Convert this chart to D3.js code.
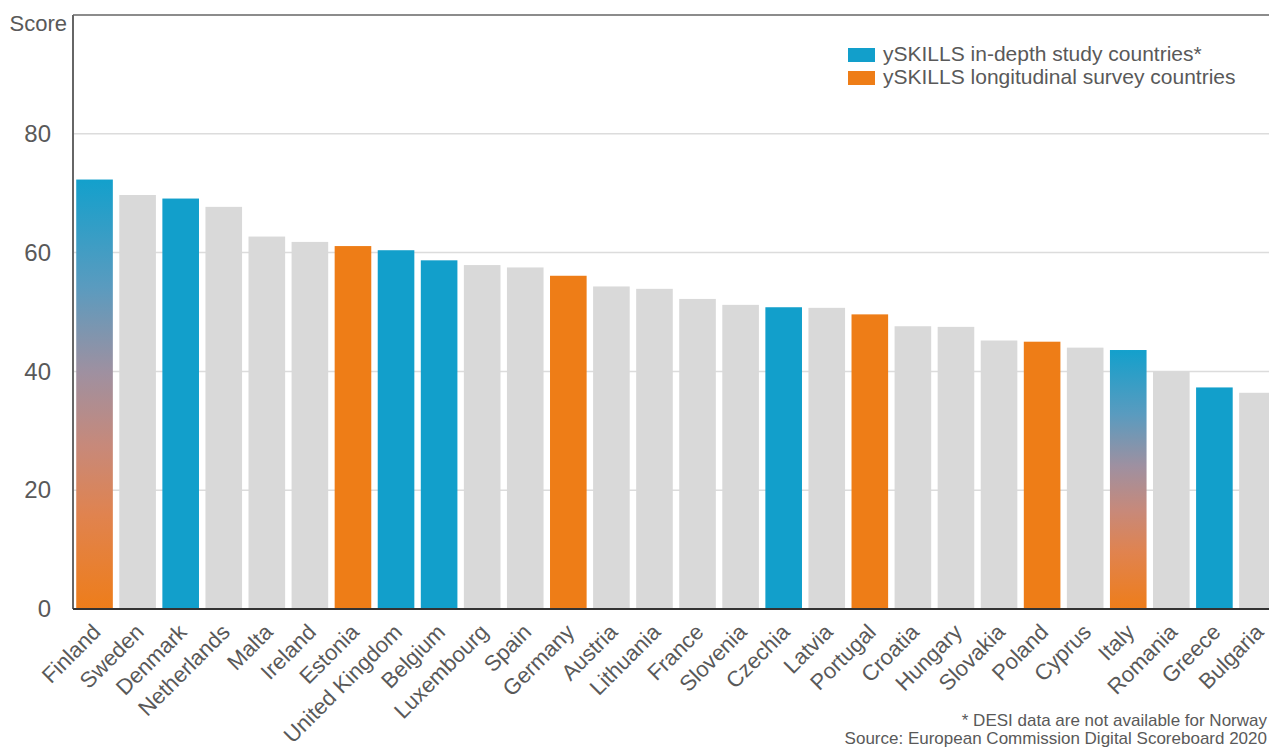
<!DOCTYPE html>
<html>
<head>
<meta charset="utf-8">
<script src="https://cdn.jsdelivr.net/npm/d3@7"></script>
<style>
  html, body { margin: 0; padding: 0; background: #fff; }
  svg { display: block; font-family: Arial, "Liberation Sans", sans-serif; }
</style>
</head>
<body>
<svg id="chart" width="1269" height="749"></svg>
<script>
// ---- data ----
const countries = ["Finland","Sweden","Denmark","Netherlands","Malta","Ireland","Estonia","United Kingdom","Belgium","Luxembourg","Spain","Germany","Austria","Lithuania","France","Slovenia","Czechia","Latvia","Portugal","Croatia","Hungary","Slovakia","Poland","Cyprus","Italy","Romania","Greece","Bulgaria"];
const scores = [72.3,69.7,69.1,67.7,62.7,61.8,61.1,60.4,58.7,57.9,57.5,56.1,54.3,53.9,52.2,51.2,50.8,50.7,49.6,47.6,47.5,45.2,45.0,44.0,43.6,40.0,37.3,36.4];
// group: "both" = in-depth + longitudinal, "depth" = in-depth study, "long" = longitudinal survey, "none"
const groups = ["both","none","depth","none","none","none","long","depth","depth","none","none","long","none","none","none","none","depth","none","long","none","none","none","long","none","both","none","depth","none"];
const yTicks = [0,20,40,60,80];
const legendLabels = ["ySKILLS in-depth study countries*","ySKILLS longitudinal survey countries"];
const yTitle = "Score";
const footnotes = ["* DESI data are not available for Norway","Source: European Commission Digital Scoreboard 2020"];

const data = countries.map((c,i)=>({country:c, score:scores[i], group:groups[i]}));

const BLUE = "#129fcb", ORANGE = "#ee7d17", GRAY = "#d9d9d9", TEXT = "#595959";

const svg = d3.select("#chart");
const plotL = 73, plotT = 15, plotB = 609, plotR = 1279;

const x = d3.scaleBand().domain(countries).range([plotL, plotR]).paddingInner(0.15).paddingOuter(0.075);
const y = d3.scaleLinear().domain([0,100]).range([plotB, plotT]);

// gradient
const defs = svg.append("defs");
const grad = defs.append("linearGradient").attr("id","bothGrad").attr("x1",0).attr("y1",0).attr("x2",0).attr("y2",1);
[[0,"#13a0cc"],[0.25,"#5a9bbf"],[0.45,"#9f90a0"],[0.62,"#c7897a"],[0.78,"#e0834f"],[1,"#ee7d1a"]].forEach(([o,c])=>{
  grad.append("stop").attr("offset",o).attr("stop-color",c);
});

// gridlines
svg.append("g").selectAll("line").data(yTicks.filter(t=>t>0)).join("line")
  .attr("x1",plotL).attr("x2",1269).attr("y1",d=>y(d)).attr("y2",d=>y(d))
  .attr("stroke","#dcdcdc").attr("stroke-width",1.5);

// bars
const fillFor = g => g==="both" ? "url(#bothGrad)" : g==="depth" ? BLUE : g==="long" ? ORANGE : GRAY;
svg.append("g").selectAll("rect").data(data).join("rect")
  .attr("x",d=>x(d.country)).attr("width",x.bandwidth())
  .attr("y",d=>y(d.score)).attr("height",d=>y(0)-y(d.score))
  .attr("fill",d=>fillFor(d.group));

// frame lines
svg.append("line").attr("x1",plotL).attr("x2",1269).attr("y1",plotT).attr("y2",plotT).attr("stroke","#666").attr("stroke-width",1.5);
svg.append("line").attr("x1",plotL).attr("x2",plotL).attr("y1",plotT).attr("y2",plotB).attr("stroke","#666").attr("stroke-width",2);

// x axis
const xAxis = svg.append("g").attr("transform",`translate(0,${plotB})`)
  .call(d3.axisBottom(x).tickSize(0).tickFormat(""));
xAxis.select(".domain").attr("stroke","#333").attr("stroke-width",2).attr("d",`M${plotL},0H1269`);

svg.append("g").selectAll("text").data(countries).join("text")
  .attr("transform",d=>`translate(${x(d)+x.bandwidth()/2+2},${plotB+19}) rotate(-45)`)
  .attr("text-anchor","end").attr("dy","0.35em")
  .attr("font-size",22).attr("fill",TEXT).text(d=>d);

// y axis labels
const yAxis = svg.append("g").attr("transform",`translate(${plotL},0)`)
  .call(d3.axisLeft(y).tickValues(yTicks).tickSize(0).tickPadding(22));
yAxis.select(".domain").remove();
yAxis.selectAll("text").attr("font-size",24).attr("fill",TEXT).attr("font-family","Arial, 'Liberation Sans', sans-serif");

svg.append("text").attr("x",67).attr("y",31).attr("text-anchor","end")
  .attr("font-size",22).attr("fill",TEXT).text(yTitle);

// legend
const legColors = [BLUE, ORANGE];
const leg = svg.append("g").selectAll("g").data(legendLabels).join("g")
  .attr("transform",(d,i)=>`translate(848,${48+i*23})`);
leg.append("rect").attr("width",27).attr("height",14).attr("fill",(d,i)=>legColors[i]);
leg.append("text").attr("x",35).attr("y",13).attr("font-size",21).attr("fill",TEXT).text(d=>d);

// footnotes
svg.append("g").selectAll("text").data(footnotes).join("text")
  .attr("x",1267).attr("y",(d,i)=>726+i*18).attr("text-anchor","end")
  .attr("font-size",17).attr("fill",TEXT).text(d=>d);
</script>
</body>
</html>
